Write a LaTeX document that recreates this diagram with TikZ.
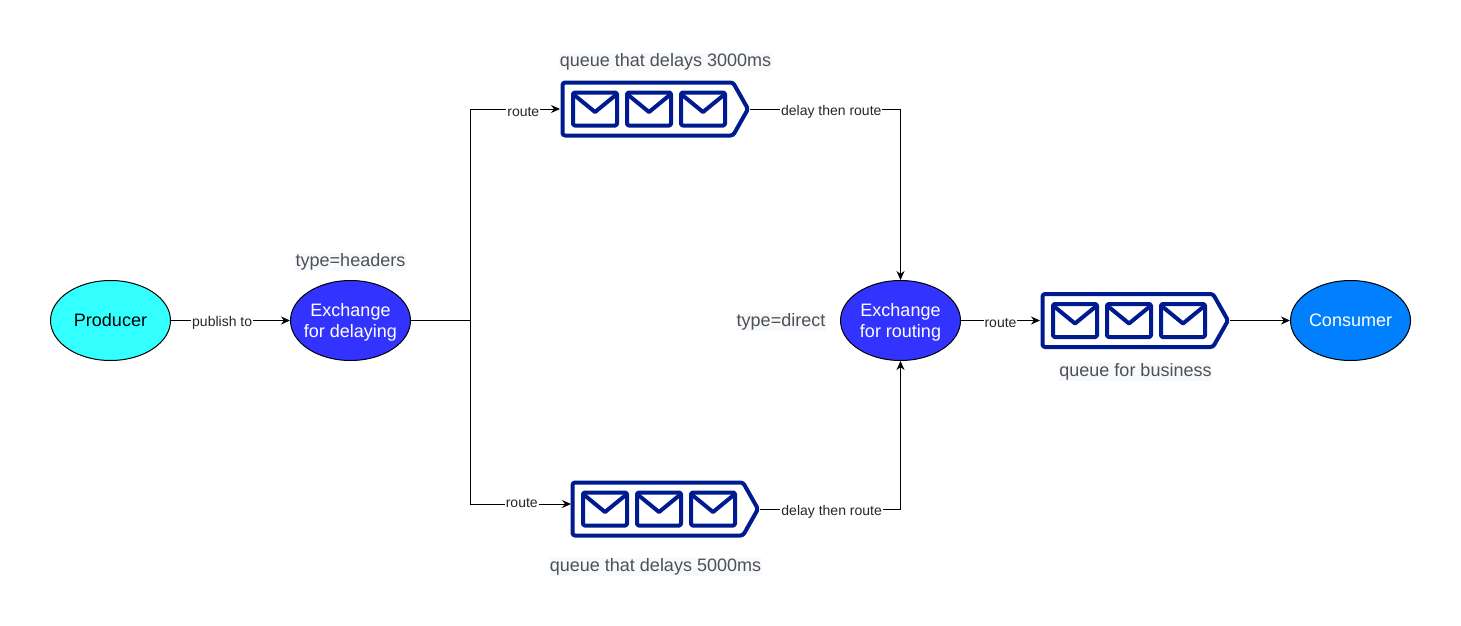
\documentclass[tikz,border=0pt]{standalone}
\usepackage{fontspec}
\setmainfont{Liberation Sans}
\usetikzlibrary{shapes.geometric, arrows.meta}
\definecolor{queueblue}{HTML}{001A8F}
\definecolor{cyanfill}{HTML}{33FFFF}
\definecolor{exchfill}{HTML}{3333FF}
\definecolor{consfill}{HTML}{007FFF}
\definecolor{notegray}{HTML}{4D5156}
\definecolor{notebg}{HTML}{F8F9FA}
\tikzset{
  roundnode/.style={draw=black, ellipse, minimum width=120, minimum height=80, inner xsep=-15pt, inner ysep=0pt, align=center, font=\fontsize{18}{21}\selectfont},
  exchnode/.style={roundnode, fill=exchfill, text=white},
  queuenode/.style={minimum width=189, minimum height=55, inner sep=0pt},
  queueline/.style={draw=queueblue, line width=4pt, line join=round},
  edgelabel/.style={fill=white, inner sep=1pt, font=\fontsize{14}{16}\selectfont, text=black!85},
  notelabel/.style={fill=notebg, inner sep=0.5pt, text=notegray, font=\fontsize{18}{21}\selectfont}
}
\newcommand{\exchlines}[2]{\rule{0pt}{16pt}#1\\#2}
\newcommand{\queueshape}[1]{
  \begin{scope}[shift={(#1.center)}]
    \draw[queueline, rounded corners=2.5pt] (-92.5,-26.5) -- (78,-26.5) -- (93,0) -- (78,26.5) -- (-92.5,26.5) -- cycle;
    \foreach \cx in {-60,-6,48} {
      \draw[queueline, rounded corners=1.5pt] (\cx-22,-16.5) rectangle (\cx+22,16.5);
      \draw[queueline] (\cx-22,-15) -- (\cx,3) -- (\cx+22,-15);
    }
  \end{scope}
}
\begin{document}
\begin{tikzpicture}[x=1pt, y=-1pt, line width=1pt, >={Stealth[length=9pt, width=8pt]}]
  \useasboundingbox (0,0) rectangle (1461,626);
  % ellipses
  \node[roundnode, fill=cyanfill] (producer) at (110.5,320.5) {Producer};
  \node[exchnode] (exdelay) at (350.5,320.5) {\exchlines{Exchange}{for delaying}};
  \node[exchnode] (exroute) at (900.5,320.5) {\exchlines{Exchange}{for routing}};
  \node[roundnode, fill=consfill, text=white] (consumer) at (1350.5,320.5) {Consumer};
  % queues
  \node[queuenode] (qthree) at (655,109) {};
  \node[queuenode] (qfive) at (665,509) {};
  \node[queuenode] (qbiz) at (1135,320.5) {};
  \queueshape{qthree}
  \queueshape{qfive}
  \queueshape{qbiz}
  \coordinate (split) at (470.5,320.5);
  \coordinate (qfivein) at (571,504);
  % connectors
  \draw[->] (producer) -- (exdelay) node[edgelabel, pos=0.43, yshift=-2pt] (lblpub) {publish to};
  \draw (exdelay) -- (split);
  \draw[->] (split) |- (qthree.west) node[edgelabel, pos=0.795, yshift=-3pt] (lblthree) {route};
  \draw[->] (split) |- (qfivein) node[edgelabel, pos=0.755, yshift=1pt] (lblfive) {route};
  \draw[->] (qthree.east) -| (exroute.north) node[edgelabel, pos=0.27, yshift=-2.5pt] (lbldelaythree) {delay then route};
  \draw[->] (qfive.east) -| (exroute.south) node[edgelabel, pos=0.255, yshift=-2.5pt] (lbldelayfive) {delay then route};
  \draw[->] (exroute) -- (qbiz.west) node[edgelabel, midway, yshift=-2.5pt] (lblbiz) {route};
  \draw[->] (qbiz.east) -- (consumer);
  % notes
  \node[notelabel] (notethree) at (665.5,62) {queue that delays 3000ms};
  \node[notelabel] (notefive) at (655.5,567) {queue that delays 5000ms};
  \node[notelabel] (notehead) at (350.5,262) {type=headers};
  \node[notelabel] (notedirect) at (781,322) {type=direct};
  \node[notelabel] (notebiz) at (1135.5,372) {queue for business};
\end{tikzpicture}
\end{document}
